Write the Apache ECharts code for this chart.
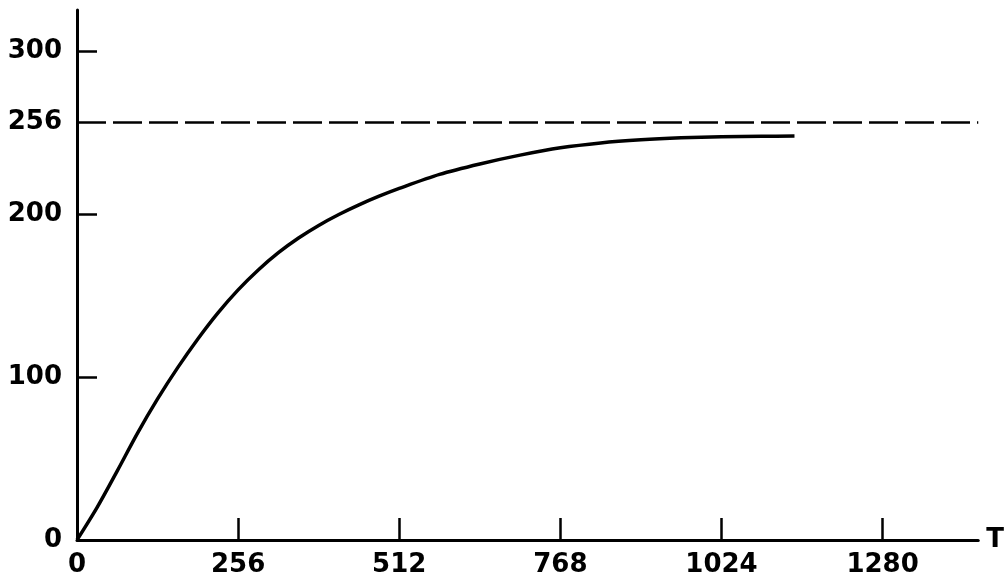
<!DOCTYPE html>
<html>
<head>
<meta charset="utf-8">
<script src="https://cdn.jsdelivr.net/npm/echarts@6/dist/echarts.min.js"></script>
<style>
html,body{margin:0;padding:0;background:#fff;}
#c{width:1007px;height:581px;}
</style>
</head>
<body>
<div id="c"></div>
<script>
// Data
var curveT = [0, 32, 64, 96, 128, 160, 192, 224, 256, 288, 320, 352, 384, 416, 448, 480, 512, 576, 640, 704, 768, 832, 896, 960, 1024, 1088, 1140];
var curveV = [0, 20, 42.4, 65.4, 86.5, 105.7, 123.3, 139.3, 153.4, 165.6, 176.2, 185.2, 192.9, 199.6, 205.5, 210.8, 215.6, 224.2, 230.6, 236, 240.5, 243.5, 245.4, 246.6, 247.3, 247.6, 247.7];
var asymptote = 256;
var xTickLabels = [0, 256, 512, 768, 1024, 1280];
var xTickMarks = [256, 512, 768, 1024, 1280];
var yTickLabels = [0, 100, 200, 256, 300];
var yTickMarks = [100, 200, 300];

var curveData = curveT.map(function (t, i) { return [t, curveV[i]]; });

var font = 'DejaVu Sans';
var chart = echarts.init(document.getElementById('c'), null, { renderer: 'canvas' });
chart.setOption({
  backgroundColor: '#ffffff',
  animation: false,
  grid: { left: 77, right: 26, top: 10, bottom: 41, containLabel: false },
  xAxis: {
    type: 'value', min: 0, max: 1432,
    name: 'T', nameLocation: 'end', nameGap: 8,
    nameTextStyle: { color: '#000', fontFamily: font, fontSize: 26, fontWeight: 'bold', verticalAlign: 'middle' },
    axisLine: { show: true, onZero: false, lineStyle: { color: '#000', width: 3 } },
    axisTick: { show: true, inside: true, length: 22, customValues: xTickMarks, lineStyle: { color: '#000', width: 2.5 } },
    axisLabel: { show: true, customValues: xTickLabels, margin: 12, color: '#000', fontFamily: font, fontSize: 26, fontWeight: 'bold',
      formatter: function (v) { return String(v); } },
    splitLine: { show: false }
  },
  yAxis: {
    type: 'value', min: 0, max: 325,
    axisLine: { show: true, onZero: false, lineStyle: { color: '#000', width: 3 } },
    axisTick: { show: true, inside: true, length: 20, customValues: yTickMarks, lineStyle: { color: '#000', width: 2.5 } },
    axisLabel: { show: true, customValues: yTickLabels, margin: 15, color: '#000', fontFamily: font, fontSize: 26, fontWeight: 'bold',
      formatter: function (v) { return String(v); } },
    splitLine: { show: false }
  },
  series: [{
    type: 'line',
    data: curveData,
    smooth: 0.3,
    showSymbol: false,
    symbol: 'none',
    lineStyle: { color: '#000', width: 3.5 },
    markLine: {
      silent: true,
      symbol: ['none', 'none'],
      label: { show: false },
      lineStyle: { color: '#000', width: 2.5, type: [29, 7] },
      data: [{ yAxis: asymptote }]
    }
  }]
});
</script>
</body>
</html>
